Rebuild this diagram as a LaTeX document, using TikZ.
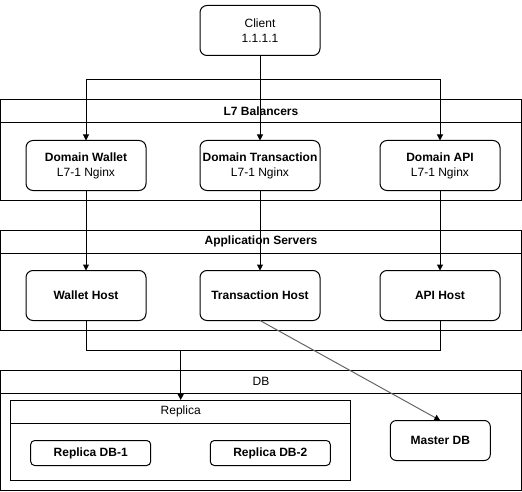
\documentclass[tikz,border=0pt]{standalone}
\usepackage{fontspec}
\setmainfont{Liberation Sans}
\usetikzlibrary{arrows.meta}
\begin{document}
\begin{tikzpicture}[x=1pt,y=-1pt,
  every node/.style={font=\fontsize{12}{15}\selectfont, inner sep=0pt, outer sep=0pt},
  box/.style={draw, line width=1pt, rounded corners=7pt, minimum width=120pt, minimum height=50pt, align=center},
  smallbox/.style={draw, line width=1pt, rounded corners=4pt, minimum width=120pt, minimum height=25pt, font=\fontsize{12}{15}\selectfont\bfseries},
  cont/.style={draw, line width=1pt, anchor=north west},
  hdr/.style={draw, line width=1pt, anchor=north west, font=\fontsize{12}{15}\selectfont\bfseries},
  hdrr/.style={draw, line width=1pt, anchor=north west, font=\fontsize{12}{15}\selectfont},
  ln/.style={line width=1pt},
  arr/.style={line width=1pt, -{Triangle[length=6pt,width=6pt]}},
  garr/.style={line width=1pt, draw=black!60, -{Triangle[length=6pt,width=6pt,fill=black,color=black]}}
]
\useasboundingbox (0,0) rectangle (522,492);

% containers
\node[cont, minimum width=521pt, minimum height=100pt] (l7) at (0.5,100) {};
\node[hdr, minimum width=521pt, minimum height=23pt] (l7h) at (0.5,100) {L7 Balancers};
\node[cont, minimum width=521pt, minimum height=100pt] (app) at (0.5,230) {};
\node[hdr, minimum width=521pt, minimum height=23pt] (apph) at (0.5,230) {Application Servers};
\node[cont, minimum width=521pt, minimum height=120pt] (db) at (0.5,370) {};
\node[hdrr, minimum width=521pt, minimum height=23pt] (dbh) at (0.5,370) {DB};
\node[cont, minimum width=340pt, minimum height=80pt] (replica) at (10.7,400) {};
\node[hdrr, minimum width=340pt, minimum height=23pt] (replicah) at (10.7,400) {Replica};

% client
\node[box] (client) at (260,30.5) {Client\\1.1.1.1};

% domains
\node[box] (dw) at (86,165.5) {\textbf{Domain Wallet}\\L7-1 Nginx};
\node[box] (dt) at (260,165.5) {\textbf{Domain Transaction}\\L7-1 Nginx};
\node[box] (da) at (440,165.5) {\textbf{Domain API}\\L7-1 Nginx};

% hosts
\node[box, font=\fontsize{12}{15}\selectfont\bfseries] (wh) at (86,295.5) {Wallet Host};
\node[box, font=\fontsize{12}{15}\selectfont\bfseries] (th) at (260,295.5) {Transaction Host};
\node[box, font=\fontsize{12}{15}\selectfont\bfseries] (ah) at (440,295.5) {API Host};

% db nodes
\node[smallbox] (r1) at (90.7,453) {Replica DB-1};
\node[smallbox] (r2) at (270.3,453) {Replica DB-2};
\node[box, minimum width=100pt, minimum height=40pt, rounded corners=6pt, font=\fontsize{12}{15}\selectfont\bfseries] (master) at (440.3,440.5) {Master DB};

% connectors
\coordinate (j1) at (260,80);
\draw[ln] (client.south) -- (j1);
\draw[arr] (j1) -| (dw.north);
\draw[arr] (j1) -| (da.north);
\draw[arr] (j1) -- (dt.north);

\draw[arr] (dw.south) -- (wh.north);
\draw[arr] (dt.south) -- (th.north);
\draw[arr] (da.south) -- (ah.north);

\coordinate (j2) at (180.7,350);
\draw[ln] (wh.south) |- (j2);
\draw[ln] (ah.south) |- (j2);
\draw[arr] (j2) -- (replica.north);

\draw[garr] (th.south) -- (master.north);
\end{tikzpicture}
\end{document}
